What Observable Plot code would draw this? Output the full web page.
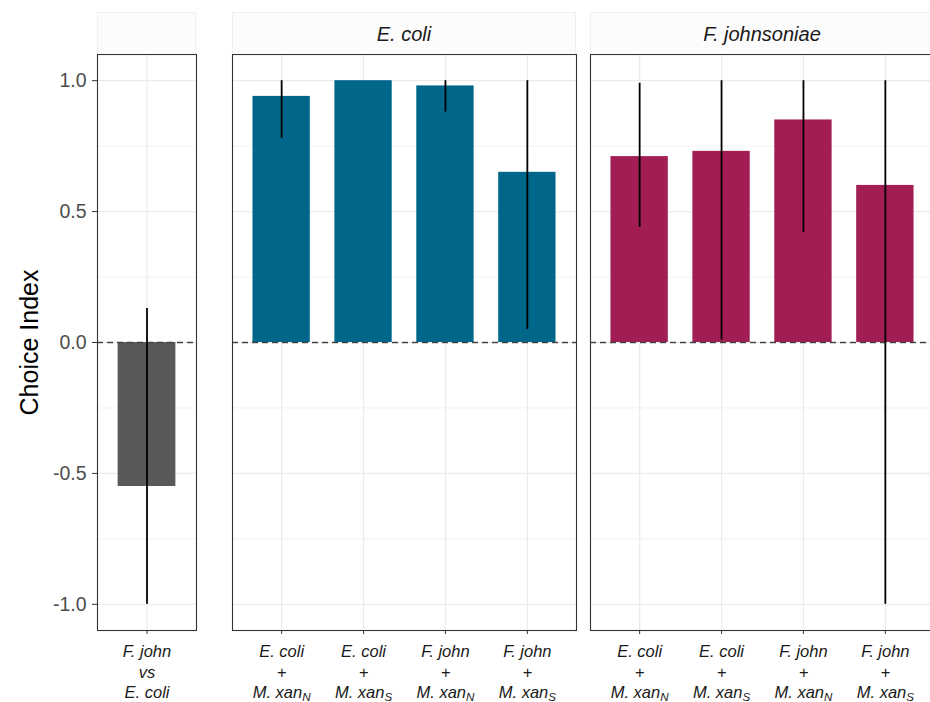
<!DOCTYPE html>
<html><head><meta charset="utf-8">
<script src="https://cdn.jsdelivr.net/npm/d3@7"></script>
<script src="https://cdn.jsdelivr.net/npm/@observablehq/plot@0.6"></script>
<style>
body{margin:0;background:#fff;overflow:hidden}
#chart{position:relative;width:930px;height:702px;overflow:hidden;background:#fff;font-family:"Liberation Sans",Arial,sans-serif}
.panel{position:absolute;top:0}
.strip{position:absolute;top:12px;height:42px;box-sizing:border-box;background:#fcfcfc;border:1px solid #f0f0f0;border-bottom:none;display:flex;align-items:center;justify-content:center;font-style:italic;font-size:20px;color:#1a1a1a;padding-top:1px}
</style></head><body><div id="chart"></div>
<script>
// ---- data ----
const facet = ["pair", "E. coli", "E. coli", "E. coli", "E. coli", "F. johnsoniae", "F. johnsoniae", "F. johnsoniae", "F. johnsoniae"];
const condition = ["F. john vs E. coli",
  "E. coli + M. xan_N", "E. coli + M. xan_S", "F. john + M. xan_N", "F. john + M. xan_S",
  "E. coli + M. xan_N", "E. coli + M. xan_S", "F. john + M. xan_N", "F. john + M. xan_S"];
const choiceIndex = [-0.55, 0.94, 1.0, 0.98, 0.65, 0.71, 0.73, 0.85, 0.60];
const ciLower = [-1.0, 0.78, 1.0, 0.88, 0.05, 0.44, 0.01, 0.42, -1.0];
const ciUpper = [0.13, 1.0, 1.0, 1.0, 1.0, 0.99, 1.0, 1.0, 1.0];
const yTicks = [-1.0, -0.5, 0.0, 0.5, 1.0];
const yMinorTicks = [-0.75, -0.25, 0.25, 0.75];
const stripLabels = ["", "E. coli", "F. johnsoniae"];
const facetKeys = ["pair", "E. coli", "F. johnsoniae"];
const yTitle = "Choice Index";

const data = facet.map((f, i) => ({facet: f, condition: condition[i], value: choiceIndex[i], lo: ciLower[i], hi: ciUpper[i]}));

// ---- layout / styles ----
const layout = [
  {left: 0, width: 200, marginLeft: 97, marginRight: 4, fill: "#595959", yAxis: true},
  {left: 200, width: 385, marginLeft: 32, marginRight: 9, fill: "#00678a", yAxis: false},
  {left: 585, width: 360, marginLeft: 5, marginRight: 11, fill: "#a21d53", yAxis: false}
];
const chart = document.getElementById("chart");
const fmtX = d => d.replace(" vs ", "\nvs\n").replace(" + ", "\n+\n");

facetKeys.forEach((key, k) => {
  const cfg = layout[k];
  const rows = data.filter(d => d.facet === key);
  const marks = [
    Plot.gridY(yMinorTicks, {stroke: "#ebebeb", strokeOpacity: 1, strokeWidth: 0.6}),
    Plot.gridY(yTicks, {stroke: "#ebebeb", strokeOpacity: 1, strokeWidth: 1.2}),
    Plot.gridX({stroke: "#ebebeb", strokeOpacity: 1, strokeWidth: 1.2}),
    Plot.barY(rows, {x: "condition", y: "value", fill: cfg.fill}),
    Plot.ruleY([0], {stroke: "#444", strokeWidth: 1.3, strokeDasharray: "6,4"}),
    Plot.ruleX(rows, {x: "condition", y1: "lo", y2: "hi", stroke: "#000", strokeWidth: 1.8}),
    Plot.frame({stroke: "#333", strokeWidth: 1.1}),
    Plot.axisX({tickSize: 4, tickPadding: 8, fontSize: 16.5, fontStyle: "italic", lineHeight: 1.25,
      color: "#1a1a1a", stroke: "#333", label: null, tickFormat: fmtX})
  ];
  if (cfg.yAxis) {
    marks.push(Plot.axisY({ticks: yTicks, tickFormat: d => d.toFixed(1), tickSize: 5, tickPadding: 6,
      fontSize: 19.5, color: "#4d4d4d", stroke: "#333", label: null}));
    marks.push(Plot.text([yTitle], {frameAnchor: "left", dx: -68, rotate: -90, fontSize: 25, fill: "#000", textAnchor: "middle"}));
  }
  const svg = Plot.plot({
    width: cfg.width, height: 702,
    marginTop: 54, marginBottom: 72, marginLeft: cfg.marginLeft, marginRight: cfg.marginRight,
    style: {fontFamily: '"Liberation Sans", Arial, sans-serif', background: "transparent", overflow: "visible"},
    x: {domain: rows.map(d => d.condition), paddingInner: 0.3, paddingOuter: 0.25, round: false},
    y: cfg.yAxis ? {domain: [-1.1, 1.1]} : {domain: [-1.1, 1.1], axis: null},
    marks
  });
  // subscripts N / S
  svg.querySelectorAll("text, tspan").forEach(node => {
    if (node.children.length === 0 && node.textContent.includes("_")) {
      const [base, sub] = node.textContent.split("_");
      node.textContent = base;
      const t = document.createElementNS("http://www.w3.org/2000/svg", "tspan");
      t.setAttribute("font-size", "0.7em");
      t.setAttribute("dy", "0.22em");
      t.textContent = sub;
      node.appendChild(t);
    }
  });
  svg.classList.add("panel");
  svg.style.left = cfg.left + "px";
  chart.appendChild(svg);

  const strip = document.createElement("div");
  strip.className = "strip";
  strip.style.left = (cfg.left + cfg.marginLeft) + "px";
  strip.style.width = (cfg.width - cfg.marginLeft - cfg.marginRight) + "px";
  strip.textContent = stripLabels[k];
  chart.appendChild(strip);
});
</script></body></html>
